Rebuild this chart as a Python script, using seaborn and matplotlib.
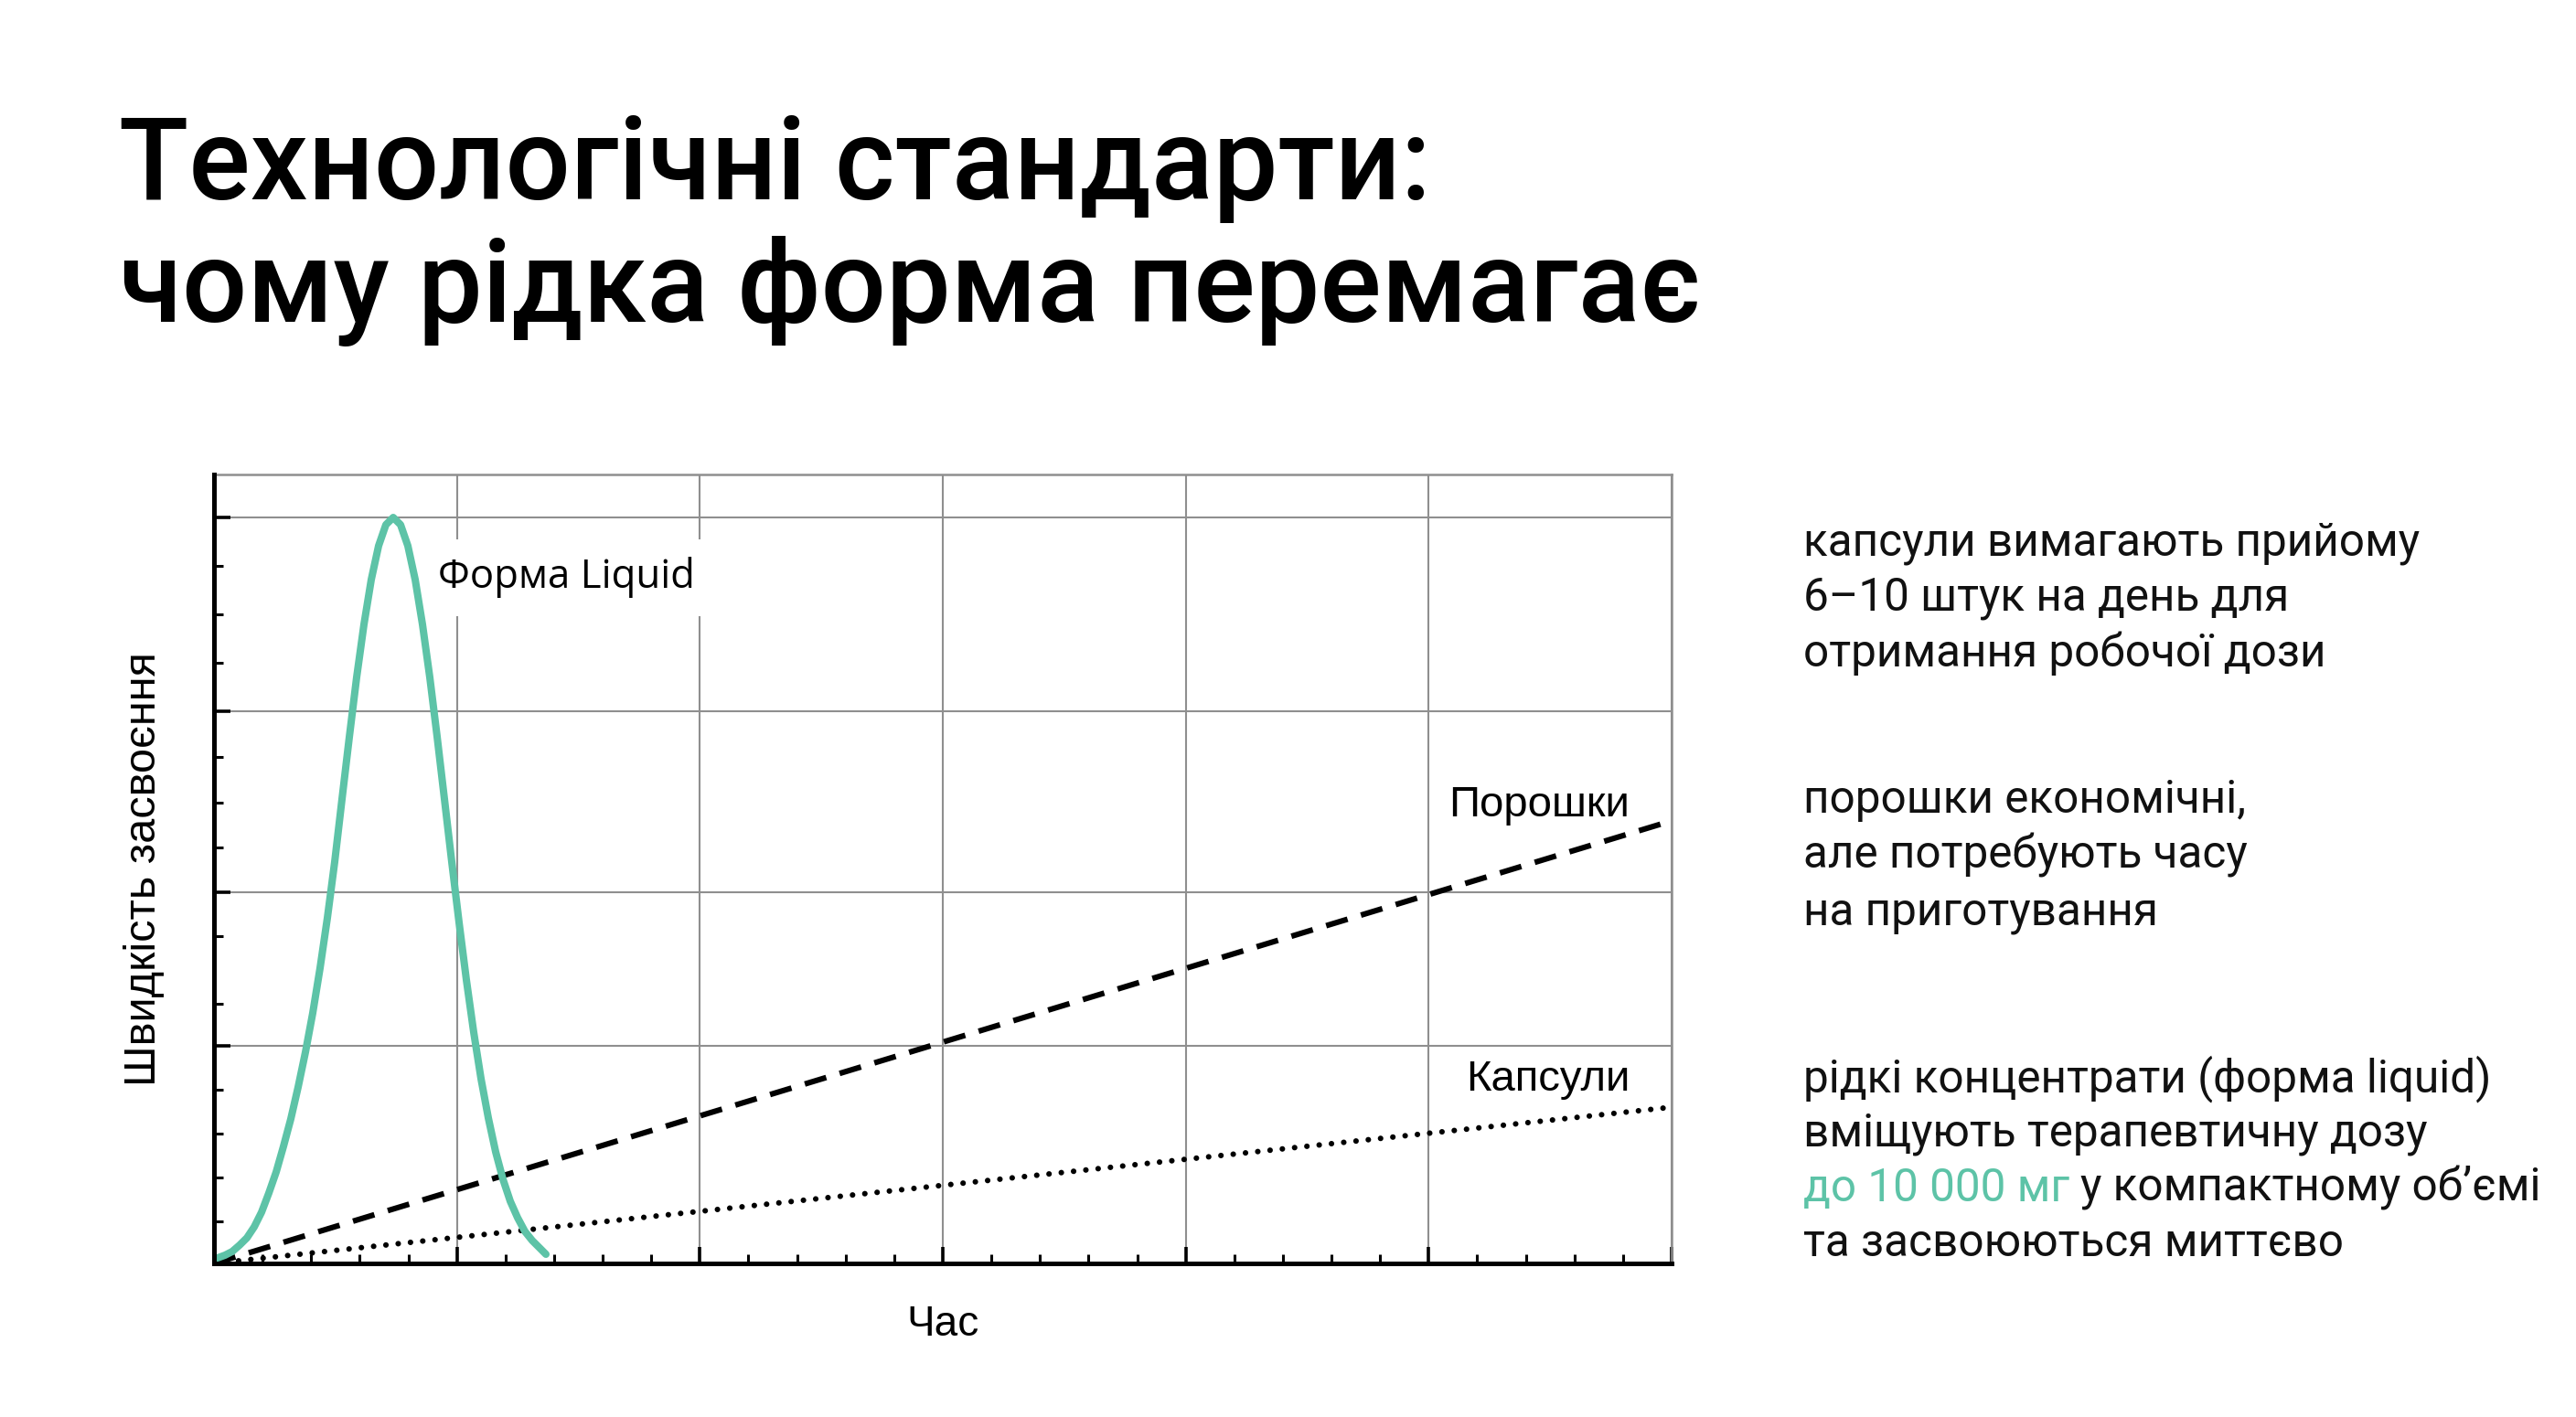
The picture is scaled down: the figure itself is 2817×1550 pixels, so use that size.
import matplotlib
matplotlib.use("Agg")
import matplotlib.pyplot as plt
from matplotlib.ticker import FixedLocator
import numpy as np
import pandas as pd
import seaborn as sns

# ---------------- data ----------------
liquid_time = [0.000, 0.075, 0.226, 0.376, 0.527, 0.678, 0.828, 0.979, 1.129, 1.280,
               1.430, 1.581, 1.732, 1.882, 2.033, 2.183, 2.334, 2.484, 2.635, 2.786,
               2.936, 3.087, 3.237, 3.388, 3.538, 3.689, 3.840, 3.990, 4.141, 4.291,
               4.442, 4.593, 4.743, 4.894, 5.044, 5.195, 5.345, 5.496, 5.647, 5.797,
               5.948, 6.098, 6.249, 6.399, 6.550, 6.701, 6.832]
liquid_rate = [0.58, 0.70, 1.04, 1.51, 2.32, 3.24, 4.63, 6.49, 8.92, 11.59,
               14.83, 18.31, 22.36, 26.77, 31.75, 37.43, 43.80, 50.87, 58.86, 66.74,
               74.28, 81.00, 86.67, 90.96, 93.63, 94.55, 93.63, 90.96, 86.67, 81.00,
               74.28, 66.74, 58.86, 50.87, 43.22, 35.92, 29.32, 23.41, 18.42, 14.14,
               10.66, 7.88, 5.79, 4.06, 2.90, 1.97, 1.16]
powder_time = [0, 30]
powder_rate = [0, 56.1]
capsule_time = [0, 30]
capsule_rate = [0, 19.8]

series_labels = ["Форма Liquid", "Порошки", "Капсули"]
x_title = "Час"
y_title = "Швидкість засвоєння"
title_lines = ["Технологічні стандарти:", "чому рідка форма перемагає"]
note_capsules = ["капсули вимагають прийому", "6–10 штук на день для", "отримання робочої дози"]
note_powders = ["порошки економічні,", "але потребують часу", "на приготування"]
note_liquid_a = ["рідкі концентрати (форма liquid)", "вміщують терапевтичну дозу"]
note_liquid_hl = "до 10 000 мг"
note_liquid_hl_rest = "у компактному об’ємі"
note_liquid_b = ["та засвоюються миттєво"]

x_major = [0, 5, 10, 15, 20, 25, 30]
x_minor = [i for i in range(1, 30) if i % 5]
y_major = [27.6, 47.05, 70.0, 94.55]
y_minor = [5.3, 10.9, 16.45, 22.0, 32.9, 41.5, 52.7, 58.4, 64.2, 76.1, 82.3, 88.4]

TEAL = "#5DC3A7"
GRID = "#8f8f8f"
W, H = 2817, 1550

sns.set_theme(style="white")
plt.rcParams["font.family"] = ["Roboto", "DejaVu Sans"]

fig = plt.figure(figsize=(W / 100, H / 100), dpi=100)
fig.patch.set_facecolor("white")
ax = fig.add_axes([234 / W, 1 - 1382 / H, (1828 - 234) / W, (1382 - 519) / H])
ax.set_facecolor("white")

df_l = pd.DataFrame({"t": liquid_time, "v": liquid_rate})
df_p = pd.DataFrame({"t": powder_time, "v": powder_rate})
df_c = pd.DataFrame({"t": capsule_time, "v": capsule_rate})

sns.lineplot(data=df_c, x="t", y="v", ax=ax, color="black", lw=4.4, zorder=2.0)
lc = ax.get_lines()[-1]
lc.set_linestyle((0, (0.01, 2.2)))
lc.set_dash_capstyle("round")

sns.lineplot(data=df_p, x="t", y="v", ax=ax, color="black", lw=4.4, zorder=2.05)
lp = ax.get_lines()[-1]
lp.set_linestyle((0, (4.0, 2.5)))
lp.set_dash_capstyle("butt")

sns.lineplot(data=df_l, x="t", y="v", ax=ax, color=TEAL, lw=5.8, zorder=2.8)
ll = ax.get_lines()[-1]
ll.set_solid_joinstyle("round")
ll.set_solid_capstyle("round")

ax.set_xlim(0, 30)
ax.set_ylim(0, 100)
ax.xaxis.set_major_locator(FixedLocator(x_major))
ax.xaxis.set_minor_locator(FixedLocator(x_minor))
ax.yaxis.set_major_locator(FixedLocator(y_major))
ax.yaxis.set_minor_locator(FixedLocator(y_minor))
ax.grid(True, which="major", color=GRID, lw=1.5, zorder=0)
ax.set_axisbelow(True)
ax.tick_params(which="major", direction="in", length=13, width=2.6, color="black",
               left=True, bottom=True, top=False, right=False,
               labelleft=False, labelbottom=False)
ax.tick_params(which="minor", direction="in", length=7, width=2.2, color="black",
               left=True, bottom=True, top=False, right=False)
for s in ["left", "bottom"]:
    ax.spines[s].set_color("black")
    ax.spines[s].set_linewidth(3.6)
    ax.spines[s].set_zorder(3)
for s in ["top", "right"]:
    ax.spines[s].set_color(GRID)
    ax.spines[s].set_linewidth(1.8)

lab_font = ["Liberation Sans", "DejaVu Sans"]
ax.set_xlabel(x_title, fontsize=33, family=lab_font, color="black")
ax.xaxis.set_label_coords(0.5, -0.052)
ax.set_ylabel(y_title, fontsize=35, family=lab_font, color="black")
ax.yaxis.set_label_coords(-0.034, 0.5)

ax.text(4.62, 85.6, series_labels[0], fontsize=31.5, family=["Open Sans", "DejaVu Sans"],
        va="baseline", ha="left", color="black", zorder=2.5,
        bbox=dict(facecolor="white", edgecolor="none", pad=14))
ax.text(29.14, 56.66, series_labels[1], fontsize=34, family=lab_font,
        va="baseline", ha="right", color="black")
ax.text(29.14, 21.9, series_labels[2], fontsize=34, family=lab_font,
        va="baseline", ha="right", color="black")

renderer = fig.canvas.get_renderer()


def width_of(s, size, **kw):
    t = fig.text(0, 0, s, fontsize=size, **kw)
    w = t.get_window_extent(renderer=renderer).width
    t.remove()
    return w


# title, sized to the reference line widths
TW = [1430, 1738]
base = 96
ratios = [tw / width_of(s, base, fontweight="medium") for s, tw in zip(title_lines, TW)]
tfs = base * sum(ratios) / len(ratios)
for line, bl in zip(title_lines, [218, 352]):
    fig.text(130 / W, 1 - bl / H, line, fontsize=tfs, fontweight="medium",
             va="baseline", ha="left", color="black")

# right notes, sized to the reference widths
NX = 1972
ref_pairs = [(note_capsules[0], 680), (note_liquid_a[0], 755),
             (note_liquid_hl + " " + note_liquid_hl_rest, 797)]
nr = [tw / width_of(s, 38) for s, tw in ref_pairs]
NFS = 38 * sum(nr) / len(nr)
TXT = "#111111"
for line, bl in zip(note_capsules, [607, 668, 729]):
    fig.text(NX / W, 1 - bl / H, line, fontsize=NFS, va="baseline", color=TXT)
for line, bl in zip(note_powders, [889, 950, 1011]):
    fig.text(NX / W, 1 - bl / H, line, fontsize=NFS, va="baseline", color=TXT)
for line, bl in zip(note_liquid_a, [1194, 1254]):
    fig.text(NX / W, 1 - bl / H, line, fontsize=NFS, va="baseline", color=TXT)
hl = fig.text(NX / W, 1 - 1314 / H, note_liquid_hl, fontsize=NFS, va="baseline", color=TEAL)
bb = hl.get_window_extent(renderer=renderer)
space = width_of("а а", NFS) - width_of("аа", NFS)
fig.text((bb.x1 + space) / W, 1 - 1314 / H, note_liquid_hl_rest, fontsize=NFS,
         va="baseline", color=TXT)
for line, bl in zip(note_liquid_b, [1374]):
    fig.text(NX / W, 1 - bl / H, line, fontsize=NFS, va="baseline", color=TXT)

fig.savefig("out.png", dpi=100, facecolor="white")
